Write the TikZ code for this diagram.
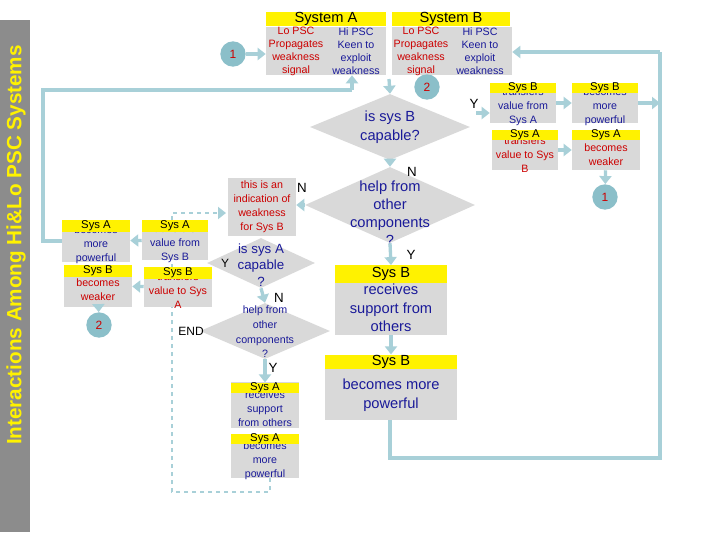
\documentclass[tikz,border=0pt]{standalone}
\usepackage{fontspec}
\setmainfont{Liberation Sans}
\usetikzlibrary{positioning}
\usetikzlibrary{arrows.meta}
\usetikzlibrary{shapes.geometric}
\definecolor{boxgray}{HTML}{D9D9D9}
\definecolor{flowc}{HTML}{A8D0D8}
\definecolor{bargray}{HTML}{8C8C8C}
\definecolor{navy}{HTML}{1A1A99}
\definecolor{darkred}{HTML}{CC0000}
\definecolor{tealc}{HTML}{8BBFC9}
\tikzset {
  % gray flowchart boxes
  box/.style={fill=boxgray, inner sep=0pt},
  % yellow title strip on top of a box
  hdr/.style={fill=yellow, inner sep=0pt, font=\fontsize{8.5}{9}\selectfont},
  % decision shapes, text goes in a separate node
  dia/.style={diamond, fill=boxgray, inner sep=0pt},
  small/.style={align=center, font=\fontsize{8}{10.5}\selectfont},
  circ/.style={circle, fill=tealc, minimum size=19pt, inner sep=0pt, text=darkred, font=\fontsize{9}{9}\selectfont},
  flow/.style={draw=flowc, line width=2.5pt, -{Triangle[length=6pt,width=9pt]}},
  link/.style={draw=flowc, line width=2.5pt},
}
\begin{document}
\begin{tikzpicture}[x=0.75pt, y=-0.75pt]
  \useasboundingbox (0,0) rectangle (720,540);

  % side bar
  \fill[bargray] (0,20) rectangle (30,532);
  \node[rotate=90, text=yellow, font=\bfseries\fontsize{15.5}{15.5}\selectfont] (title) at (16,245) {Interactions Among Hi\&Lo PSC Systems};

  % connectors drawn first, boxes cover them
  \coordinate (ret1) at (660,52);
  \coordinate (ret2) at (660,458);
  \draw[link] (390,420) -- (390,458) -- (ret2) -- (ret1);
  \draw[link] (96,241) -- (43,241) -- (43,90) -- (352,90);
  \draw[flow, dashed, line width=1.8pt] (270,470) -- (270,492) -- (172,492) -- (172,213) -- (226,213);

  % system A and B
  \node[box, minimum width=90pt, minimum height=36pt] (bA) at (326,51) {};
  \node[box, minimum width=90pt, minimum height=36pt] (bB) at (452,51) {};
  \node[hdr, minimum width=90pt, minimum height=11pt, font=\fontsize{11}{11}\selectfont] (hA) at (326,19) {System A};
  \node[hdr, minimum width=89pt, minimum height=11pt, font=\fontsize{11}{11}\selectfont] (hB) at (451,19) {System B};
  \node[small, text=darkred, font=\fontsize{8}{9.75}\selectfont] (loA) at (296,51) {Lo PSC\\Propagates\\weakness\\signal};
  \node[small, text=navy, font=\fontsize{8}{9.75}\selectfont] (hiA) at (356,51) {Hi PSC\\Keen to\\exploit\\weakness};
  \node[small, text=darkred, font=\fontsize{8}{9.75}\selectfont] (loB) at (421,51) {Lo PSC\\Propagates\\weakness\\signal};
  \node[small, text=navy, font=\fontsize{8}{9.75}\selectfont] (hiB) at (480,51) {Hi PSC\\Keen to\\exploit\\weakness};

  \node[circ] (c1) at (233,54) {1};
  \node[circ] (c2) at (427,87) {2};
  \coordinate (gapAB) at (389,79);
  \coordinate (upA) at (352,90);
  \draw[flow] (c1) -- (bA.west |- c1);
  \draw[flow] (upA) -- (bA.south -| upA);

  % is sys B capable
  \node[dia, minimum width=120pt, minimum height=49.5pt] (d1) at (390,127) {};
  \node[align=center, text=navy, font=\fontsize{11}{14}\selectfont] at (d1) {is sys B\\capable?};
  \draw[flow] (gapAB) -- (d1.north);

  % Y branch, right
  \node[box, minimum width=49.5pt, minimum height=30pt] (btr1) at (523,103) {};
  \node[small, text=navy] at (523,107) {transfers\\value from\\Sys A};
  \node[hdr, minimum width=49.5pt, minimum height=7.5pt] at (523,88) {Sys B};
  \node[box, minimum width=49.5pt, minimum height=30pt] (bbp1) at (605,103) {};
  \node[small, text=navy] at (605,107) {becomes\\more\\powerful};
  \node[hdr, minimum width=49.5pt, minimum height=7.5pt] at (605,88) {Sys B};
  \node[box, minimum width=49.5pt, minimum height=30pt] (atr1) at (525,150) {};
  \node[small, text=darkred] at (525,155) {transfers\\value to Sys\\B};
  \node[hdr, minimum width=49.5pt, minimum height=7.5pt] at (525,135) {Sys A};
  \node[box, minimum width=51pt, minimum height=30pt] (awk1) at (606,150) {};
  \node[small, text=darkred] at (606,155) {becomes\\weaker};
  \node[hdr, minimum width=51pt, minimum height=7.5pt] at (606,135) {Sys A};
  \node[circ] (c1b) at (605,197) {1};
  \coordinate (yout) at (476,113);
  \draw[flow] (yout) -- (btr1.west |- yout);
  \node (y1) at (474,104) {Y};
  \draw[flow] (btr1) -- (bbp1);
  \draw[flow] (atr1) -- (awk1);
  \draw[flow] (awk1) -- (c1b);
  \draw[flow] (bbp1.east) -- (ret1 |- bbp1.east);
  \draw[flow] (ret1) -- (bB.east |- ret1);

  % help from other components, right
  \node[dia, minimum width=127.5pt, minimum height=57pt] (d2) at (390,205) {};
  \node[align=center, text=navy, font=\fontsize{11}{13.5}\selectfont] at (390,213) {help from\\other\\components\\?};
  \draw[flow] (d1.south) -- (d2.north);
  \node (n1) at (412,172) {N};

  \node[box, minimum width=84pt, minimum height=52.5pt] (brc) at (391,300) {};
  \node[align=center, text=navy, font=\fontsize{11}{13.9}\selectfont] at (391,308) {receives\\support from\\others};
  \node[hdr, minimum width=84pt, minimum height=13pt, font=\fontsize{11}{11}\selectfont] (hbrc) at (391,274) {Sys B};
  \draw[flow] (d2.south) -- (hbrc.north);
  \node (y2) at (411,255) {Y};

  \node[box, minimum width=99pt, minimum height=48.75pt] (bbp4) at (391,387) {};
  \node[align=center, text=navy, font=\fontsize{11}{14}\selectfont] at (391,395) {becomes more\\powerful};
  \node[hdr, minimum width=99pt, minimum height=11pt, font=\fontsize{11}{11}\selectfont] (hbbp4) at (391,362) {Sys B};
  \draw[flow] (brc.south) -- (hbbp4.north);

  % N branch, left
  \node[box, minimum width=51pt, minimum height=43pt] (ind) at (262,207) {};
  \node[small, text=darkred] at (262,207) {this is an\\indication of\\weakness\\for Sys B};
  \draw[flow] (d2.west) -- (ind.east |- d2.west);
  \node (n2) at (302,188) {N};

  \node[dia, minimum width=81pt, minimum height=37.5pt] (d3) at (261,263) {};
  \node[align=center, text=navy, font=\fontsize{10}{12.4}\selectfont] at (261,265) {is sys A\\capable\\?};
  \node[font=\fontsize{9}{9}\selectfont] (y3) at (225,263) {Y};

  \node[box, minimum width=49.5pt, minimum height=30pt] (atr2) at (175,240) {};
  \node[small, text=navy] at (175,244) {transfers\\value from\\Sys B};
  \node[hdr, minimum width=49.5pt, minimum height=9pt] at (175,226) {Sys A};
  \node[box, minimum width=51pt, minimum height=30pt] (btr2) at (178,287) {};
  \node[small, text=darkred] at (178,291) {transfers\\value to Sys\\A};
  \node[hdr, minimum width=51pt, minimum height=9pt] at (178,273) {Sys B};
  \node[box, minimum width=51pt, minimum height=31.5pt] (abp2) at (96,241) {};
  \node[small, text=navy] at (96,245) {becomes\\more\\powerful};
  \node[hdr, minimum width=51pt, minimum height=9pt] at (96,226) {Sys A};
  \node[box, minimum width=51pt, minimum height=31pt] (bwk2) at (98,286) {};
  \node[small, text=darkred] at (98,290) {becomes\\weaker};
  \node[hdr, minimum width=51pt, minimum height=9pt] at (98,271) {Sys B};
  \node[circ] (c2b) at (99,325) {2};
  \draw[flow] (atr2) -- (abp2);
  \draw[flow] (btr2) -- (bwk2);
  \draw[flow] (bwk2) -- (c2b);

  % help from other components, left
  \node[dia, minimum width=97.5pt, minimum height=42pt] (d4) at (265,331) {};
  \node[small, text=navy, font=\fontsize{8}{11}\selectfont] at (265,332) {help from\\other\\components\\?};
  \draw[flow] (d3.south) -- (d4.north);
  \node (n3) at (279,298) {N};
  \node[font=\fontsize{9}{9}\selectfont] (endn) at (191,331) {END};

  \node[box, minimum width=51pt, minimum height=34.5pt] (arc) at (265,405) {};
  \node[small, text=navy] at (265,409) {receives\\support\\from others};
  \node[hdr, minimum width=51pt, minimum height=8pt] (harc) at (265,388) {Sys A};
  \draw[flow] (d4.south) -- (harc.north);
  \node (y4) at (273,368) {Y};
  \node[box, minimum width=51pt, minimum height=33pt] (abp3) at (265,456) {};
  \node[small, text=navy] at (265,461) {becomes\\more\\powerful};
  \node[hdr, minimum width=51pt, minimum height=8pt] at (265,439) {Sys A};
\end{tikzpicture}
\end{document}
